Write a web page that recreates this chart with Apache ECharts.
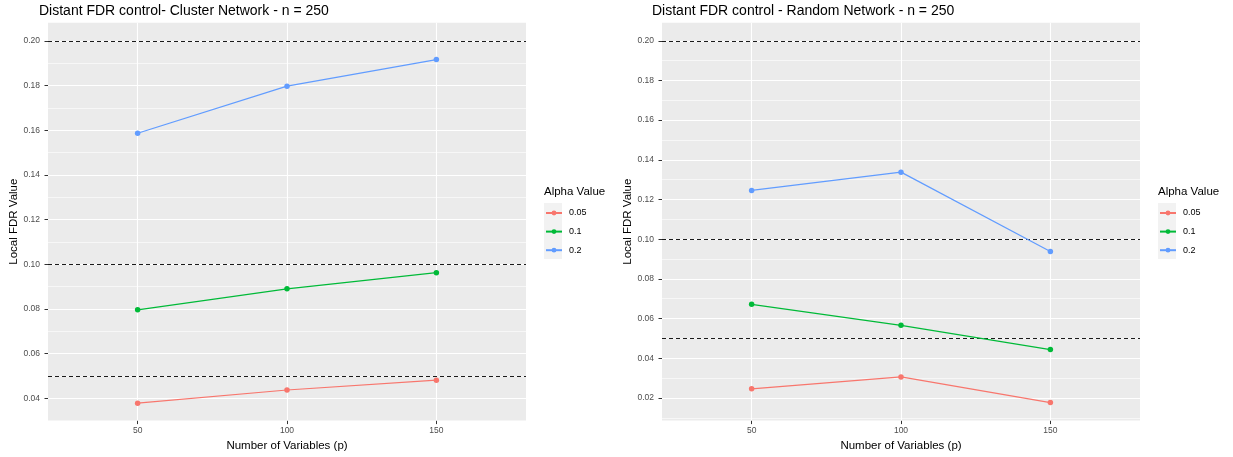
<!DOCTYPE html>
<html>
<head>
<meta charset="utf-8">
<title>Distant FDR control</title>
<script src="https://cdn.jsdelivr.net/npm/echarts@6/dist/echarts.min.js"></script>
<style>
  html, body { margin: 0; padding: 0; background: #ffffff; }
  #chart { width: 1233px; height: 457px; }
</style>
</head>
<body>
<div id="chart"></div>
<script>
// Number of variables (p) on the x axis
const variables = [50, 100, 150];
const alphaLevels = ['0.05', '0.1', '0.2'];
const alphaColors = ['#F8766D', '#00BA38', '#619CFF'];
// Nominal FDR levels drawn as dashed reference lines
const targetLevels = [0.05, 0.1, 0.2];

// Cluster network, n = 250: local FDR per alpha
const clusterAlpha005 = [0.0378, 0.0437, 0.0481];
const clusterAlpha01  = [0.0796, 0.0890, 0.0962];
const clusterAlpha02  = [0.1586, 0.1797, 0.1916];

// Random network, n = 250: local FDR per alpha
const randomAlpha005 = [0.0246, 0.0306, 0.0177];
const randomAlpha01  = [0.0672, 0.0566, 0.0444];
const randomAlpha02  = [0.1246, 0.1338, 0.0938];

// Tick labels
const clusterYTicks = [0.04, 0.06, 0.08, 0.10, 0.12, 0.14, 0.16, 0.18, 0.20];
const randomYTicks  = [0.02, 0.04, 0.06, 0.08, 0.10, 0.12, 0.14, 0.16, 0.18, 0.20];
const xTicks = [50, 100, 150];

const FONT = '"Liberation Sans", Arial, Helvetica, sans-serif';
const panelTop = 22.7;
const panelHeight = 399;
const panels = [
  { left: 48,  yMin: 0.0300, yMax: 0.2081, ticks: clusterYTicks,
    values: [clusterAlpha005, clusterAlpha01, clusterAlpha02],
    title: 'Distant FDR control- Cluster Network - n = 250', titleLeft: 39,
    legendLeft: 544 },
  { left: 662, yMin: 0.0086, yMax: 0.2091, ticks: randomYTicks,
    values: [randomAlpha005, randomAlpha01, randomAlpha02],
    title: 'Distant FDR control - Random Network - n = 250', titleLeft: 652,
    legendLeft: 1158 }
];
const panelWidth = 478;

function minorLines(ticks, min, max) {
  const step = ticks[1] - ticks[0];
  const out = [];
  for (let i = -1; i < ticks.length; i++) {
    const v = +(ticks[0] + step * (i + 0.5)).toFixed(4);
    if (v > min && v < max) out.push(v);
  }
  return out;
}

const grids = [], xAxes = [], yAxes = [], series = [], titles = [], legends = [], graphics = [];

panels.forEach((p, k) => {
  grids.push({
    left: p.left, top: panelTop, width: panelWidth, height: panelHeight,
    show: true, backgroundColor: '#EBEBEB', borderWidth: 0, containLabel: false
  });
  xAxes.push({
    type: 'value', gridIndex: k, min: 20, max: 180,
    name: 'Number of Variables (p)', nameLocation: 'middle', nameGap: 17,
    nameTextStyle: { color: '#000000', fontSize: 11.5, fontFamily: FONT, verticalAlign: 'top' },
    axisLine: { show: false },
    axisTick: { show: true, length: 3.5, lineStyle: { color: '#333333', width: 1 }, customValues: xTicks },
    axisLabel: { color: '#4D4D4D', fontSize: 8.5, fontFamily: FONT, margin: 5.5, customValues: xTicks },
    splitLine: { show: false }
  });
  yAxes.push({
    type: 'value', gridIndex: k, min: p.yMin, max: p.yMax,
    name: 'Local FDR Value', nameLocation: 'middle', nameGap: 23, nameRotate: 90,
    nameTextStyle: { color: '#000000', fontSize: 11.5, fontFamily: FONT },
    axisLine: { show: false },
    axisTick: { show: true, length: 3.5, lineStyle: { color: '#333333', width: 1 }, customValues: p.ticks },
    axisLabel: { color: '#4D4D4D', fontSize: 8.5, fontFamily: FONT, margin: 8,
      customValues: p.ticks, formatter: v => v.toFixed(2) },
    splitLine: { show: false }
  });

  // Panel gridlines: minor, major and the vertical lines at each p
  const gridData = [];
  minorLines(p.ticks, p.yMin, p.yMax).forEach(v =>
    gridData.push({ yAxis: v, lineStyle: { color: '#FFFFFF', width: 0.6, type: 'solid' } }));
  p.ticks.forEach(v =>
    gridData.push({ yAxis: v, lineStyle: { color: '#FFFFFF', width: 1.1, type: 'solid' } }));
  xTicks.forEach(v =>
    gridData.push({ xAxis: v, lineStyle: { color: '#FFFFFF', width: 1.1, type: 'solid' } }));
  series.push({
    type: 'line', xAxisIndex: k, yAxisIndex: k, data: [], silent: true, z: 1,
    markLine: { silent: true, symbol: 'none', animation: false, label: { show: false },
      data: gridData, z: 1 }
  });
  // Dashed reference lines at the nominal alpha levels
  series.push({
    type: 'line', xAxisIndex: k, yAxisIndex: k, data: [], silent: true, z: 2,
    markLine: { silent: true, symbol: 'none', animation: false, label: { show: false },
      lineStyle: { color: '#1a1a1a', width: 1, type: [4, 3] },
      data: targetLevels.map(v => ({ yAxis: v })), z: 2 }
  });

  alphaLevels.forEach((name, i) => {
    series.push({
      name: name, type: 'line', xAxisIndex: k, yAxisIndex: k, z: 3,
      data: variables.map((x, j) => [x, p.values[i][j]]),
      symbol: 'circle', symbolSize: 5.5, showSymbol: true,
      lineStyle: { color: alphaColors[i], width: 1.2 },
      itemStyle: { color: alphaColors[i] },
      animation: false
    });
  });

  titles.push({
    text: p.title, left: p.titleLeft, top: 4, padding: 0,
    textStyle: { fontSize: 14, fontWeight: 'normal', color: '#000000', fontFamily: FONT }
  });
  titles.push({
    text: 'Alpha Value', left: p.legendLeft, top: 186, padding: 0,
    textStyle: { fontSize: 11.5, fontWeight: 'normal', color: '#000000', fontFamily: FONT }
  });
  graphics.push({
    type: 'rect', left: p.legendLeft, top: 203, silent: true,
    shape: { width: 18, height: 56 }, style: { fill: '#F2F2F2' }, z: -1
  });
  legends.push({
    orient: 'vertical', left: p.legendLeft + 1, top: 208, padding: 0,
    data: alphaLevels, itemWidth: 16, itemHeight: 6, itemGap: 8.6,
    selectedMode: false,
    textStyle: { color: '#000000', fontSize: 9, lineHeight: 10, fontFamily: FONT, padding: [0, 0, 0, 2] }
  });
});

const chart = echarts.init(document.getElementById('chart'), null, { renderer: 'canvas' });
chart.setOption({
  backgroundColor: '#FFFFFF',
  animation: false,
  title: titles,
  legend: legends,
  grid: grids,
  xAxis: xAxes,
  yAxis: yAxes,
  series: series,
  graphic: graphics
});
</script>
</body>
</html>
